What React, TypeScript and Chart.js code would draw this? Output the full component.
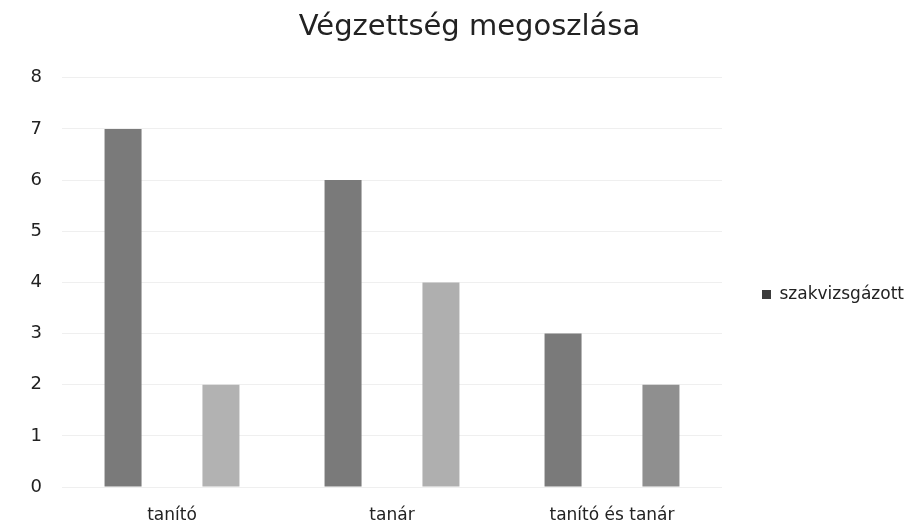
import React, { useEffect, useRef } from "react";
import { Chart, registerables } from "chart.js";

Chart.register(...registerables);

const categories = ["tanító", "tanár", "tanító és tanár"];
const szakvizsgazott = [7, 6, 3];
const masodikSorozat = [2, 4, 2];
const yTicks = [0, 1, 2, 3, 4, 5, 6, 7, 8];
const titleText = "Végzettség megoszlása";
const legendLabel = "szakvizsgázott";

const FONT = "'DejaVu Sans', sans-serif";
const LEGEND_WIDTH = 191;

// widen the right-hand legend box so the plot area ends where the reference's does
const legendWidthPlugin = {
  id: "legendWidth",
  afterInit(chart: any) {
    const lg = chart.legend;
    if (lg && !lg.__patched) {
      const orig = lg.fit.bind(lg);
      lg.fit = function () {
        orig();
        this.width = LEGEND_WIDTH;
      };
      lg.__patched = true;
    }
  },
};

export default function App() {
  const ref = useRef<HTMLCanvasElement | null>(null);
  useEffect(() => {
    if (!ref.current) return;
    const chart = new Chart(ref.current, {
      type: "bar",
      data: {
        labels: categories,
        datasets: [
          {
            label: legendLabel,
            data: szakvizsgazott,
            backgroundColor: "#7a7a7a",
            categoryPercentage: 0.89,
            barPercentage: 0.378,
          },
          {
            label: "",
            data: masodikSorozat,
            backgroundColor: ["#b2b2b2", "#afafaf", "#8f8f8f"],
            categoryPercentage: 0.89,
            barPercentage: 0.378,
          },
        ],
      },
      options: {
        animation: false,
        responsive: true,
        maintainAspectRatio: false,
        layout: { padding: { left: 26, right: 0, top: 0, bottom: 0 } },
        plugins: {
          legend: {
            display: true,
            position: "right",
            fullSize: false,
            title: { display: true, text: "", padding: 0, font: { size: 20 } },
            labels: {
              padding: 40,
              boxWidth: 9,
              boxHeight: 9,
              color: "#222",
              font: { family: FONT, size: 17 },
              filter: (item: any) => item.datasetIndex === 0,
              generateLabels: (c: any) =>
                Chart.defaults.plugins.legend.labels
                  .generateLabels(c)
                  .map((l: any) => ({ ...l, fillStyle: "#3c3c3c", strokeStyle: "#3c3c3c", lineWidth: 0 })),
            },
          },
          tooltip: { enabled: false },
          title: {
            display: true,
            text: titleText,
            color: "#222",
            font: { family: FONT, size: 29, weight: "normal" },
            padding: { top: 10, bottom: 33 },
          },
        },
        scales: {
          x: {
            grid: { display: false, drawTicks: false },
            border: { display: false },
            afterFit: (s: any) => {
              s.height = 37;
            },
            ticks: {
              color: "#222",
              font: { family: FONT, size: 17 },
              padding: 18,
            },
          },
          y: {
            min: 0,
            max: 8,
            afterBuildTicks: (axis: any) => {
              axis.ticks = yTicks.map((v) => ({ value: v }));
            },
            afterFit: (s: any) => {
              s.width = 36;
            },
            grid: { color: "#efefef", drawTicks: false },
            border: { display: false },
            ticks: {
              color: "#222",
              font: { family: FONT, size: 18 },
              padding: 20,
            },
          },
        },
      },
      plugins: [legendWidthPlugin],
    });
    return () => chart.destroy();
  }, []);
  return (
    <div style={{ position: "fixed", left: 0, top: 0, width: 913, height: 524, background: "#fff" }}>
      <canvas ref={ref} />
    </div>
  );
}
